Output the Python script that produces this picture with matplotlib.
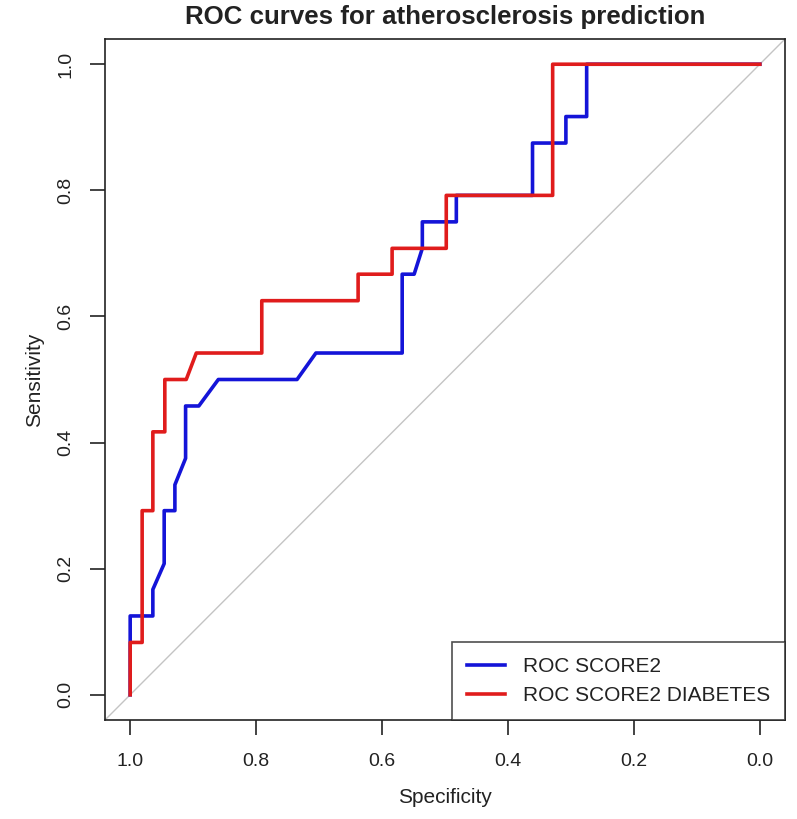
import matplotlib
matplotlib.use("Agg")
import matplotlib.pyplot as plt

plt.rcParams['font.family'] = ['Liberation Sans', 'DejaVu Sans']

# ROC coordinates (specificity, sensitivity)
score2_spec = [1.0, 1.0, 0.964, 0.964, 0.946, 0.946, 0.929, 0.929, 0.912, 0.912,
               0.891, 0.860, 0.735, 0.705, 0.568, 0.568, 0.549, 0.536, 0.536,
               0.482, 0.482, 0.361, 0.361, 0.308, 0.308, 0.275, 0.275, 0.0]
score2_sens = [0.0, 0.125, 0.125, 0.167, 0.208, 0.292, 0.292, 0.333, 0.375, 0.458,
               0.458, 0.5, 0.5, 0.542, 0.542, 0.667, 0.667, 0.708, 0.75,
               0.75, 0.792, 0.792, 0.875, 0.875, 0.917, 0.917, 1.0, 1.0]

diab_spec = [1.0, 1.0, 0.981, 0.981, 0.964, 0.964, 0.945, 0.945, 0.911, 0.895,
             0.791, 0.791, 0.638, 0.638, 0.584, 0.584, 0.498, 0.498, 0.329,
             0.329, 0.0]
diab_sens = [0.0, 0.083, 0.083, 0.292, 0.292, 0.417, 0.417, 0.5, 0.5, 0.542,
             0.542, 0.625, 0.625, 0.667, 0.667, 0.708, 0.708, 0.792, 0.792,
             1.0, 1.0]

ticks = [1.0, 0.8, 0.6, 0.4, 0.2, 0.0]
tick_labels = ['1.0', '0.8', '0.6', '0.4', '0.2', '0.0']
labels = ['ROC SCORE2', 'ROC SCORE2 DIABETES']
colors = ['#1414d8', '#e01c1c']

fig = plt.figure(figsize=(7.97, 8.19), dpi=100)
ax = fig.add_axes([105 / 797, 99 / 819, 680 / 797, 681 / 819])

# chance line (abline), clipped by the axes
ax.plot([1.2, -0.2], [-0.2, 1.2], color='#c4c4c4', lw=1.0, zorder=1)

ax.plot(score2_spec, score2_sens, color=colors[0], lw=2.6, label=labels[0], zorder=2)
ax.plot(diab_spec, diab_sens, color=colors[1], lw=2.6, label=labels[1], zorder=3)

ax.set_xlim(1.04, -0.04)
ax.set_ylim(-0.04, 1.04)
ax.set_xticks(ticks)
ax.set_xticklabels(tick_labels)
ax.set_yticks(ticks)
ax.set_yticklabels(tick_labels, rotation=90, va='center')

for sp in ax.spines.values():
    sp.set_linewidth(1.2)
    sp.set_color('#222222')
ax.tick_params(axis='both', length=11, width=1.2, color='#222222',
               labelsize=14, labelcolor='#222222')
ax.tick_params(axis='x', pad=13)
ax.tick_params(axis='y', pad=11)

ax.set_xlabel('Specificity', fontsize=15, color='#222222', labelpad=13)
ax.set_ylabel('Sensitivity', fontsize=15, color='#222222', labelpad=10)
fig.text(445 / 797, 1 - 17 / 819, 'ROC curves for atherosclerosis prediction',
         ha='center', va='center', fontsize=18.6, fontweight='bold', color='#222222')

leg = ax.legend(loc='lower right', fontsize=15, borderaxespad=0, frameon=True,
                fancybox=False, edgecolor='#222222', handlelength=1.85,
                handletextpad=0.85, borderpad=0.7, labelspacing=0.5)
leg.get_frame().set_linewidth(1.2)
for t in leg.get_texts():
    t.set_color('#222222')

fig.savefig('out.png', dpi=100)
